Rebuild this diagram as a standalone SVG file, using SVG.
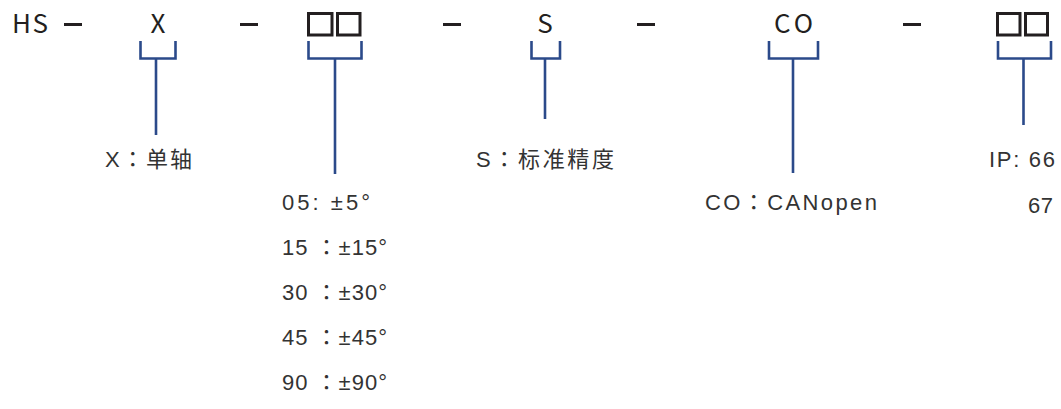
<svg xmlns="http://www.w3.org/2000/svg" width="1061" height="409" viewBox="0 0 1061 409">
<style>
.top{font-family:"Noto Sans CJK JP","Liberation Sans",sans-serif;font-size:26px;fill:#231f20}
.lbl{font-family:"Liberation Sans","Noto Sans CJK JP",sans-serif;font-size:22px;fill:#333333}
.dash{fill:#231f20}
.box{fill:none;stroke:#231f20;stroke-width:3}
.br{fill:none;stroke:#2b4a8a;stroke-width:2.6}
</style>
<rect width="1061" height="409" fill="#ffffff"/>
<g id="code">
<text class="top" x="12" y="33" textLength="36" lengthAdjust="spacing">HS</text>
<rect class="dash" x="64" y="23" width="18" height="3"/>
<text class="top" x="158" y="33" text-anchor="middle">X</text>
<rect class="dash" x="240" y="23" width="18" height="3"/>
<rect class="box" x="308.5" y="13.5" width="23.5" height="21.5"/>
<rect class="box" x="337.5" y="13.5" width="22.5" height="21.5"/>
<rect class="dash" x="443" y="23" width="18" height="3"/>
<text class="top" x="545" y="33" text-anchor="middle">S</text>
<rect class="dash" x="637" y="23" width="18" height="3"/>
<text class="top" x="774" y="33" textLength="39" lengthAdjust="spacing">CO</text>
<rect class="dash" x="903" y="23" width="18" height="3"/>
<rect class="box" x="997.5" y="13.5" width="22.5" height="21.5"/>
<rect class="box" x="1025.5" y="13.5" width="22" height="21.5"/>
</g>
<g id="connectors">
<path class="br" d="M140.5 41V58.5H175.5V41M156 58.5V135"/>
<path class="br" d="M308.5 41V58.5H361.5V41M335 58.5V174"/>
<path class="br" d="M531.5 41V58.5H560V41M545 58.5V119"/>
<path class="br" d="M769 41V58.5H818V41M793 58.5V173"/>
<path class="br" d="M998 41V58.5H1051V41M1023.5 58.5V125"/>
</g>
<g id="label-x"><text class="lbl" x="105" y="167" textLength="87" lengthAdjust="spacing">X：单轴</text></g>
<g id="label-range">
<text class="lbl" x="282" y="210" textLength="88" lengthAdjust="spacing">05:  ±5°</text>
<text class="lbl" x="282" y="255" textLength="105" lengthAdjust="spacing">15 ：±15°</text>
<text class="lbl" x="282" y="300" textLength="105" lengthAdjust="spacing">30 ：±30°</text>
<text class="lbl" x="282" y="345" textLength="105" lengthAdjust="spacing">45 ：±45°</text>
<text class="lbl" x="282" y="390" textLength="105" lengthAdjust="spacing">90 ：±90°</text>
</g>
<g id="label-s"><text class="lbl" x="476" y="167" textLength="138" lengthAdjust="spacing">S：标准精度</text></g>
<g id="label-co"><text class="lbl" x="705" y="210" textLength="172" lengthAdjust="spacing">CO：CANopen</text></g>
<g id="label-ip">
<text class="lbl" x="989" y="167" textLength="66" lengthAdjust="spacing">IP: 66</text>
<text class="lbl" x="1028" y="213" textLength="25" lengthAdjust="spacing">67</text>
</g>
</svg>
